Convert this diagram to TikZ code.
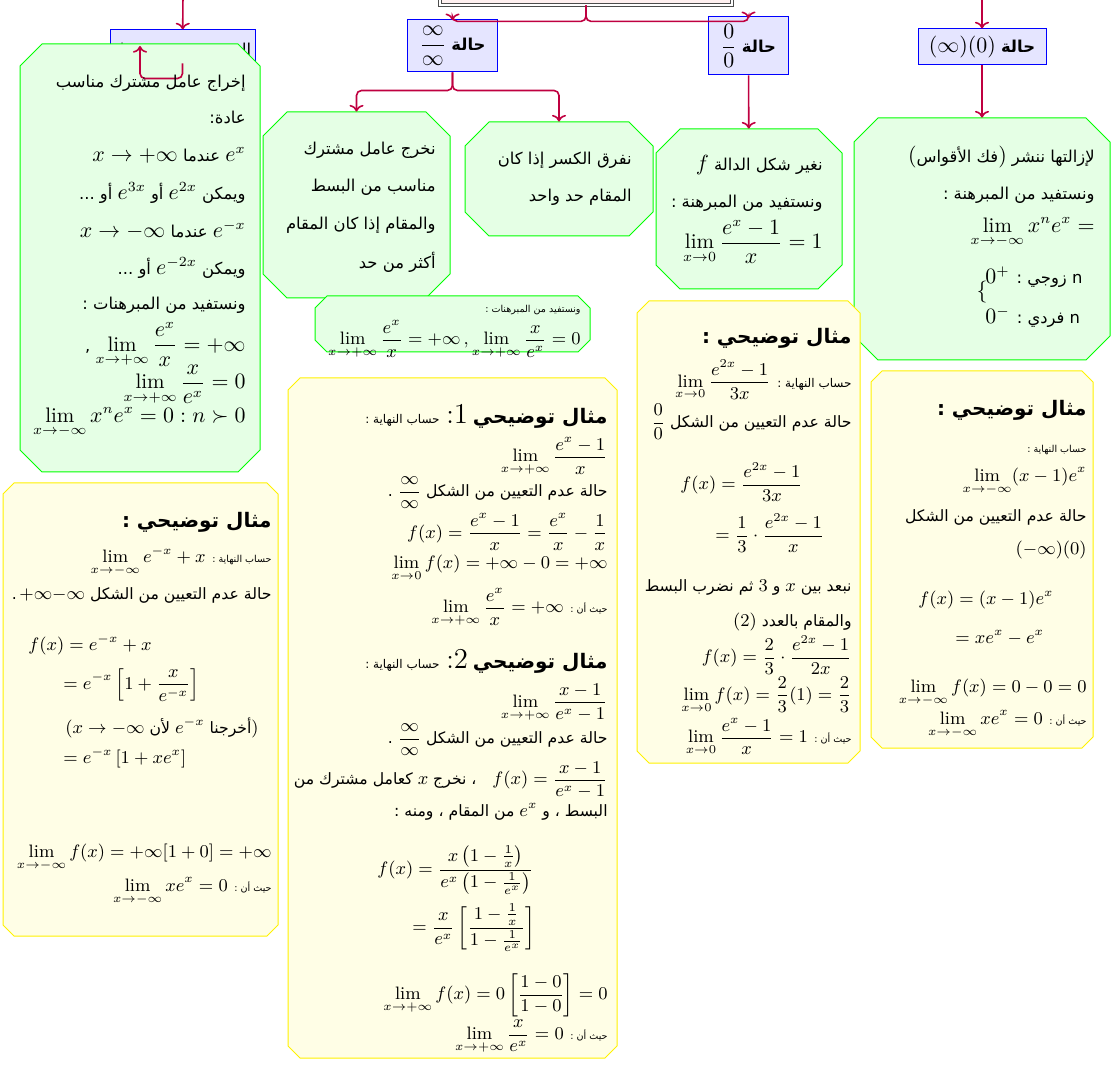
\documentclass[tikz,border=0pt]{standalone}
\usepackage{amsmath}
\usepackage{amssymb}
\usepackage{fontspec}
\newfontfamily\arabicfont[Script=Arabic, Scale=0.78]{DejaVu Sans}
\newfontfamily\arabicy[Script=Arabic, Scale=0.87]{DejaVu Sans}
\TeXXeTstate=1
\usetikzlibrary{calc,shadows,arrows.meta}

\let\arfont\arabicfont
\def\ar#1{{\arfont\beginR #1\endR}}
\def\sm#1{{\fontsize{6.9}{8}\selectfont #1}}
\def\smm#1{{\fontsize{5.5}{7}\selectfont #1}}
\def\hd#1{{\fontsize{11.5}{13}\selectfont\bfseries #1}}
\def\gsize{\fontsize{10.5}{12}\selectfont}
\def\ysize{\fontsize{9}{11}\selectfont}
\let\lnsize\gsize
\def\px#1{#1*0.5pt}

\tikzset{
  top box/.style={draw=black!70, double, double distance=0.8pt, fill=red!6,
        drop shadow={shadow xshift=-1pt, shadow yshift=-1pt, fill=black!35},
        minimum width=\px{292}, minimum height=\px{40}},
  case box/.style={draw=blue, fill=blue!10, line width=0.5pt, inner sep=1pt, font=\gsize},
  rule box/.style={draw=green, fill=green!10, line width=0.5pt},
  example box/.style={draw=yellow, fill=yellow!10, line width=0.5pt},
  link/.style={draw=purple, line width=0.8pt, rounded corners=2.5pt},
  rowtext/.style={anchor=east, inner sep=0pt, font=\lnsize},
  rowleft/.style={rowtext, anchor=west}
}

\def\Octagon#1#2#3#4#5#6#7{%
  \filldraw[#2] (#3+#7,#4) -- (#5-#7,#4) -- (#5,#4+#7) -- (#5,#6-#7)
     -- (#5-#7,#6) -- (#3+#7,#6) -- (#3,#6-#7) -- (#3,#4+#7) -- cycle;
  \node[inner sep=0pt, minimum width={(#5-#3)*0.5pt}, minimum height={(#6-#4)*0.5pt}]
     (#1) at ({(#3+#5)/2},{(#4+#6)/2}) {};
}
\def\Ln#1#2#3{\node[rowtext] (#1) at (\rx,#2) {#3};}
\def\LnL#1#2#3#4{\node[rowleft] (#1) at (#2,#3) {#4};}

\begin{document}
\begin{tikzpicture}[x=0.5pt, y=-0.5pt]
\useasboundingbox (0,0) rectangle (1112,1068);
\clip (0,0) rectangle (1112,1068);

\node[top box] (top) at (586,-15) {};
\coordinate (lin) at (183,-5);
\coordinate (rin) at (982,-5);
\coordinate (hook) at (140,46);

\node[case box, minimum width=\px{145}, minimum height=\px{45}] (lbox) at (182.5,52.5)
  {\raisebox{3pt}{\ar{التعيين $+\infty-\infty$}}};
\node[case box, minimum width=\px{90}, minimum height=\px{52}] (inf) at (452.5,46)
  {\ar{\textbf{حالة} $\dfrac{\infty}{\infty}$}};
\node[case box, minimum width=\px{80}, minimum height=\px{58}] (zero) at (748.5,46)
  {\ar{\textbf{حالة} $\dfrac{0}{0}$}};
\node[case box, minimum width=\px{128}, minimum height=\px{36}] (prod) at (982,47)
  {\ar{\textbf{حالة} $(\infty)(0)$}};

\Octagon{gl}{rule box}{20}{44}{260}{472}{22}
\Octagon{nl}{rule box}{263}{112}{450}{298}{24}
\Octagon{nr}{rule box}{465}{122}{653}{236}{24}
\Octagon{nz}{rule box}{656}{129}{842}{289}{24}
\Octagon{np}{rule box}{854}{118}{1110}{360}{24}
\Octagon{ns}{rule box}{315}{296}{590}{352}{12}
\Octagon{el}{example box}{3}{483}{278}{936}{11}
\Octagon{em}{example box}{288}{378}{617}{1058}{12}
\Octagon{ez}{example box}{637}{301}{860}{763}{12}
\Octagon{ep}{example box}{871}{371}{1093}{748}{11}

\draw[link, ->] (lin) -- (lbox);
\draw[link, ->] (rin) -- (prod);
\draw[link, -{To[reversed]}] (top.south) -- ++(0,16) -| ($(inf.north)+(0,-6)$);
\draw[link, -{To[reversed]}] (top.south) -- ++(0,16) -| ($(zero.north)+(0,-5)$);
\draw[link, ->] (inf.south) -- ++(0,18) -| (nl);
\draw[link, ->] (inf.south) -- ++(0,18) -| (nr);
\draw[link, ->] (zero) -- (nz);
\draw[link, ->] (prod) -- (np);
\draw[link, ->] ($(lbox.south)+(0,-12)$) -- ++(0,15) -| (hook);

\def\rx{246}
\Ln{g1}{83}{\ar{إخراج عامل مشترك مناسب}}
\Ln{g2}{118}{\ar{عادة:}}
\Ln{g3}{155}{\ar{$e^x$ عندما $x\to+\infty$}}
\Ln{g4}{193}{\ar{ويمكن $e^{2x}$ أو $e^{3x}$ أو ...}}
\Ln{g5}{230}{\ar{$e^{-x}$ عندما $x\to-\infty$}}
\Ln{g6}{268}{\ar{ويمكن $e^{-2x}$ أو ...}}
\Ln{g7}{305}{\ar{ونستفيد من المبرهنات :}}
\Ln{g8}{345}{\ar{$\displaystyle\lim_{x\to+\infty}\frac{e^x}{x}=+\infty$ ,}}
\Ln{g9}{385}{$\displaystyle\lim_{x\to+\infty}\frac{x}{e^x}=0$}
\Ln{g10}{423}{$\displaystyle\lim_{x\to-\infty}x^ne^x=0 : n\succ 0$}

\def\rx{436}
\Ln{l1}{150}{\ar{نخرج عامل مشترك}}
\Ln{l2}{187}{\ar{مناسب من البسط}}
\Ln{l3}{225}{\ar{والمقام إذا كان المقام}}
\Ln{l4}{262}{\ar{أكثر من حد}}

\def\rx{632}
\Ln{r1}{160}{\ar{نفرق الكسر إذا كان}}
\Ln{r2}{197}{\ar{المقام حد واحد}}

\def\rx{823}
\Ln{z1}{165}{\ar{نغير شكل الدالة $f$}}
\Ln{z2}{203}{\ar{ونستفيد من المبرهنة :}}
\Ln{z3}{242}{$\displaystyle\lim_{x\to0}\frac{e^x-1}{x}=1$}

\def\rx{1095}
\Ln{p1}{157}{\ar{لإزالتها ننشر $)$فك الأقواس$($}}
\Ln{p2}{195}{\ar{ونستفيد من المبرهنة :}}
\Ln{p3}{233}{$\displaystyle\lim_{x\to-\infty}x^ne^x=$}
\node[rowtext, anchor=center] (brc) at (982,292) {$\{$};
\LnL{p4}{985}{277}{\ar{n زوجي : $0^+$}}
\LnL{p5}{985}{317}{\ar{n فردي : $0^-$}}

\let\lnsize\ysize
\let\arfont\arabicy
\def\rx{581}
\Ln{s1}{310}{\ar{\smm{ونستفيد من المبرهنات :}}}
\Ln{s2}{340}{$\displaystyle\lim_{x\to+\infty}\frac{e^x}{x}=+\infty\,,\lim_{x\to+\infty}\frac{x}{e^x}=0$}

\def\rx{272}
\Ln{a1}{522}{\ar{\hd{مثال توضيحي :}}}
\Ln{a2}{562}{\ar{\smm{حساب النهاية :} $\displaystyle\lim_{x\to-\infty}e^{-x}+x$}}
\Ln{a3}{595}{\ar{حالة عدم التعيين من الشكل $+\infty{-}\infty$\,.}}
\LnL{a4}{28}{645}{$f(x)=e^{-x}+x$}
\LnL{a5}{63}{685}{$\displaystyle=e^{-x}\left[1+\frac{x}{e^{-x}}\right]$}
\LnL{a6}{65}{728}{\ar{$)$أخرجنا $e^{-x}$ لأن $(x\to-\infty$}}
\LnL{a7}{63}{758}{$=e^{-x}\left[1+xe^x\right]$}
\Ln{a8}{858}{$\displaystyle\lim_{x\to-\infty}f(x)=+\infty[1+0]=+\infty$}
\Ln{a9}{892}{\ar{\smm{حيث أن :} $\displaystyle\lim_{x\to-\infty}xe^x=0$}}

\def\rx{608}
\Ln{b1}{417}{\ar{\hd{مثال توضيحي} {\fontsize{14}{16}\selectfont$1$\rmfamily:} \sm{حساب النهاية :}}}
\Ln{b2}{457}{$\displaystyle\lim_{x\to+\infty}\frac{e^x-1}{x}$}
\Ln{b3}{493}{\ar{حالة عدم التعيين من الشكل $\dfrac{\infty}{\infty}$ .}}
\Ln{b4}{532}{$\displaystyle f(x)=\frac{e^x-1}{x}=\frac{e^x}{x}-\frac{1}{x}$}
\Ln{b5}{568}{$\displaystyle\lim_{x\to0}f(x)=+\infty-0=+\infty$}
\Ln{b6}{608}{\ar{\smm{حيث أن :} $\displaystyle\lim_{x\to+\infty}\frac{e^x}{x}=+\infty$}}
\Ln{b7}{662}{\ar{\hd{مثال توضيحي} {\fontsize{14}{16}\selectfont$2$\rmfamily:} \sm{حساب النهاية :}}}
\Ln{b8}{703}{$\displaystyle\lim_{x\to+\infty}\frac{x-1}{e^x-1}$}
\Ln{b9}{740}{\ar{حالة عدم التعيين من الشكل $\dfrac{\infty}{\infty}$ .}}
\Ln{b10}{780}{\ar{$\displaystyle f(x)=\frac{x-1}{e^x-1}$\hspace{8pt}، نخرج $x$ كعامل مشترك من}}
\Ln{b11}{812}{\ar{البسط ، و $e^x$ من المقام ، ومنه :}}
\LnL{b12}{377}{870}{$\displaystyle f(x)=\frac{x\left(1-\frac{1}{x}\right)}{e^x\left(1-\frac{1}{e^x}\right)}$}
\LnL{b13}{412}{928}{$\displaystyle=\frac{x}{e^x}\left[\frac{1-\frac{1}{x}}{1-\frac{1}{e^x}}\right]$}
\Ln{b14}{995}{$\displaystyle\lim_{x\to+\infty}f(x)=0\left[\frac{1-0}{1-0}\right]=0$}
\Ln{b15}{1037}{\ar{\smm{حيث أن :} $\displaystyle\lim_{x\to+\infty}\frac{x}{e^x}=0$}}

\def\rx{852}
\Ln{c1}{338}{\ar{\hd{مثال توضيحي :}}}
\Ln{c2}{380}{\ar{\sm{حساب النهاية :} $\displaystyle\lim_{x\to0}\frac{e^{2x}-1}{3x}$}}
\Ln{c3}{422}{\ar{حالة عدم التعيين من الشكل $\dfrac{0}{0}$}}
\LnL{c4}{680}{482}{$\displaystyle f(x)=\frac{e^{2x}-1}{3x}$}
\LnL{c5}{715}{533}{$\displaystyle=\frac{1}{3}\cdot\frac{e^{2x}-1}{x}$}
\Ln{c6}{587}{\ar{نبعد بين $x$ و $3$ ثم نضرب البسط}}
\Ln{c7}{622}{\ar{والمقام بالعدد $(2)$}}
\Ln{c8}{655}{$\displaystyle f(x)=\frac{2}{3}\cdot\frac{e^{2x}-1}{2x}$}
\Ln{c9}{695}{$\displaystyle\lim_{x\to0}f(x)=\frac{2}{3}(1)=\frac{2}{3}$}
\Ln{c10}{737}{\ar{\smm{حيث أن :} $\displaystyle\lim_{x\to0}\frac{e^x-1}{x}=1$}}

\def\rx{1087}
\Ln{d1}{410}{\ar{\hd{مثال توضيحي :}}}
\Ln{d2}{450}{\ar{\smm{حساب النهاية :}}}
\Ln{d3}{482}{$\displaystyle\lim_{x\to-\infty}(x-1)e^x$}
\Ln{d4}{517}{\ar{حالة عدم التعيين من الشكل}}
\Ln{d5}{550}{$(-\infty)(0)$}
\LnL{d6}{918}{600}{$f(x)=(x-1)e^x$}
\LnL{d7}{955}{638}{$=xe^x-e^x$}
\Ln{d8}{693}{$\displaystyle\lim_{x\to-\infty}f(x)=0-0=0$}
\Ln{d9}{725}{\ar{\smm{حيث أن :} $\displaystyle\lim_{x\to-\infty}xe^x=0$}}
\end{tikzpicture}
\end{document}
